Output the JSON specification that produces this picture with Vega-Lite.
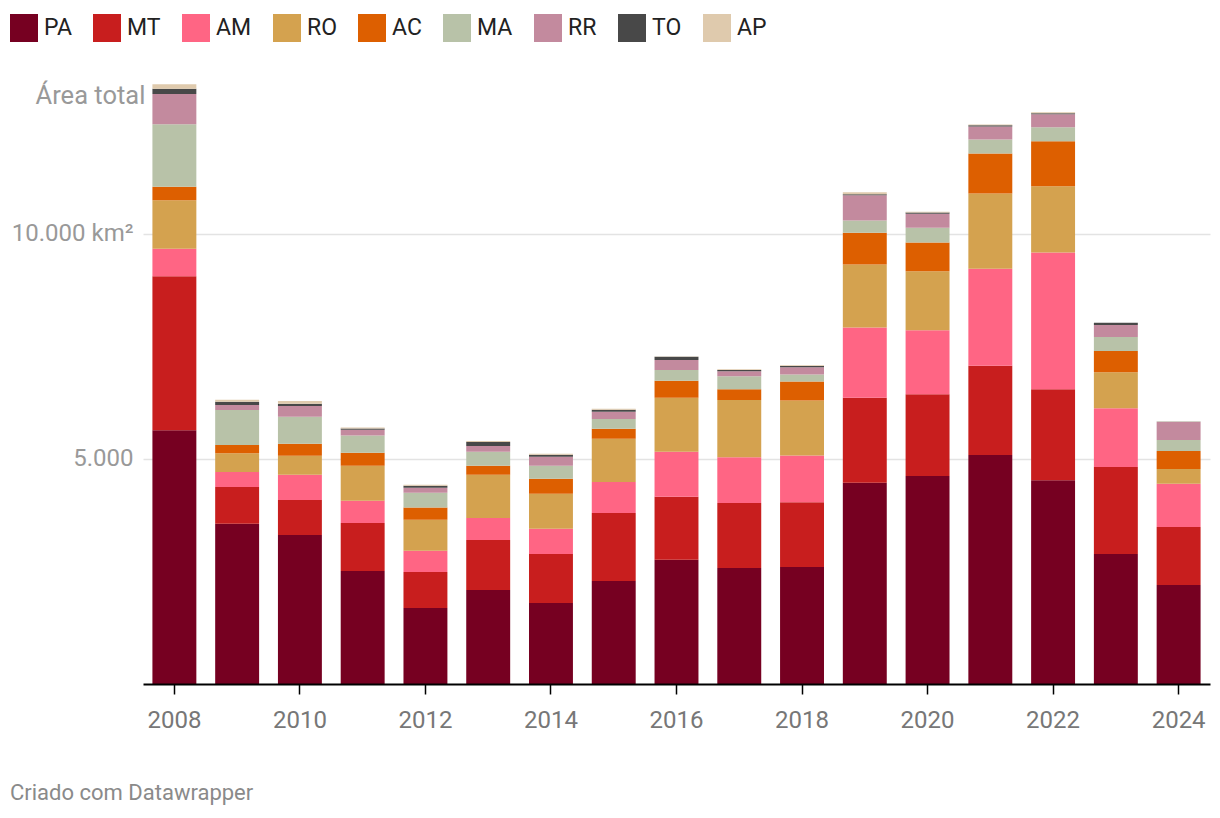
{
  "$schema": "https://vega.github.io/schema/vega-lite/v6.json",
  "width": 1067,
  "height": 600,
  "autosize": {"type": "none"},
  "padding": {"left": 143, "top": 84, "right": 10, "bottom": 134},
  "background": "white",
  "config": {
    "font": "Roboto",
    "view": {"stroke": null}
  },
  "title": {
    "text": "Criado com Datawrapper",
    "orient": "bottom",
    "anchor": "start",
    "frame": "bounds",
    "offset": 51,
    "fontSize": 22,
    "fontWeight": "normal",
    "color": "#8a8a8a",
    "font": "Roboto"
  },
  "datasets": {
    "main": [
      {"year": 2008, "state": "PA", "value": 5640}, {"year": 2008, "state": "MT", "value": 3420}, {"year": 2008, "state": "AM", "value": 610}, {"year": 2008, "state": "RO", "value": 1080}, {"year": 2008, "state": "AC", "value": 300}, {"year": 2008, "state": "MA", "value": 1390}, {"year": 2008, "state": "RR", "value": 670}, {"year": 2008, "state": "TO", "value": 120}, {"year": 2008, "state": "AP", "value": 100},
      {"year": 2009, "state": "PA", "value": 3560}, {"year": 2009, "state": "MT", "value": 820}, {"year": 2009, "state": "AM", "value": 330}, {"year": 2009, "state": "RO", "value": 420}, {"year": 2009, "state": "AC", "value": 180}, {"year": 2009, "state": "MA", "value": 780}, {"year": 2009, "state": "RR", "value": 110}, {"year": 2009, "state": "TO", "value": 70}, {"year": 2009, "state": "AP", "value": 45},
      {"year": 2010, "state": "PA", "value": 3310}, {"year": 2010, "state": "MT", "value": 780}, {"year": 2010, "state": "AM", "value": 560}, {"year": 2010, "state": "RO", "value": 420}, {"year": 2010, "state": "AC", "value": 270}, {"year": 2010, "state": "MA", "value": 600}, {"year": 2010, "state": "RR", "value": 240}, {"year": 2010, "state": "TO", "value": 45}, {"year": 2010, "state": "AP", "value": 65},
      {"year": 2011, "state": "PA", "value": 2510}, {"year": 2011, "state": "MT", "value": 1070}, {"year": 2011, "state": "AM", "value": 490}, {"year": 2011, "state": "RO", "value": 780}, {"year": 2011, "state": "AC", "value": 290}, {"year": 2011, "state": "MA", "value": 380}, {"year": 2011, "state": "RR", "value": 130}, {"year": 2011, "state": "TO", "value": 25}, {"year": 2011, "state": "AP", "value": 25},
      {"year": 2012, "state": "PA", "value": 1690}, {"year": 2012, "state": "MT", "value": 800}, {"year": 2012, "state": "AM", "value": 470}, {"year": 2012, "state": "RO", "value": 690}, {"year": 2012, "state": "AC", "value": 270}, {"year": 2012, "state": "MA", "value": 330}, {"year": 2012, "state": "RR", "value": 110}, {"year": 2012, "state": "TO", "value": 45}, {"year": 2012, "state": "AP", "value": 20},
      {"year": 2013, "state": "PA", "value": 2090}, {"year": 2013, "state": "MT", "value": 1110}, {"year": 2013, "state": "AM", "value": 490}, {"year": 2013, "state": "RO", "value": 960}, {"year": 2013, "state": "AC", "value": 200}, {"year": 2013, "state": "MA", "value": 310}, {"year": 2013, "state": "RR", "value": 130}, {"year": 2013, "state": "TO", "value": 90}, {"year": 2013, "state": "AP", "value": 20},
      {"year": 2014, "state": "PA", "value": 1800}, {"year": 2014, "state": "MT", "value": 1090}, {"year": 2014, "state": "AM", "value": 560}, {"year": 2014, "state": "RO", "value": 780}, {"year": 2014, "state": "AC", "value": 330}, {"year": 2014, "state": "MA", "value": 290}, {"year": 2014, "state": "RR", "value": 200}, {"year": 2014, "state": "TO", "value": 45}, {"year": 2014, "state": "AP", "value": 20},
      {"year": 2015, "state": "PA", "value": 2290}, {"year": 2015, "state": "MT", "value": 1510}, {"year": 2015, "state": "AM", "value": 690}, {"year": 2015, "state": "RO", "value": 960}, {"year": 2015, "state": "AC", "value": 220}, {"year": 2015, "state": "MA", "value": 220}, {"year": 2015, "state": "RR", "value": 160}, {"year": 2015, "state": "TO", "value": 45}, {"year": 2015, "state": "AP", "value": 20},
      {"year": 2016, "state": "PA", "value": 2760}, {"year": 2016, "state": "MT", "value": 1400}, {"year": 2016, "state": "AM", "value": 1000}, {"year": 2016, "state": "RO", "value": 1200}, {"year": 2016, "state": "AC", "value": 380}, {"year": 2016, "state": "MA", "value": 240}, {"year": 2016, "state": "RR", "value": 220}, {"year": 2016, "state": "TO", "value": 70}, {"year": 2016, "state": "AP", "value": 10},
      {"year": 2017, "state": "PA", "value": 2580}, {"year": 2017, "state": "MT", "value": 1440}, {"year": 2017, "state": "AM", "value": 1020}, {"year": 2017, "state": "RO", "value": 1270}, {"year": 2017, "state": "AC", "value": 240}, {"year": 2017, "state": "MA", "value": 290}, {"year": 2017, "state": "RR", "value": 110}, {"year": 2017, "state": "TO", "value": 25}, {"year": 2017, "state": "AP", "value": 20},
      {"year": 2018, "state": "PA", "value": 2600}, {"year": 2018, "state": "MT", "value": 1440}, {"year": 2018, "state": "AM", "value": 1040}, {"year": 2018, "state": "RO", "value": 1220}, {"year": 2018, "state": "AC", "value": 420}, {"year": 2018, "state": "MA", "value": 160}, {"year": 2018, "state": "RR", "value": 160}, {"year": 2018, "state": "TO", "value": 25}, {"year": 2018, "state": "AP", "value": 20},
      {"year": 2019, "state": "PA", "value": 4470}, {"year": 2019, "state": "MT", "value": 1890}, {"year": 2019, "state": "AM", "value": 1560}, {"year": 2019, "state": "RO", "value": 1400}, {"year": 2019, "state": "AC", "value": 710}, {"year": 2019, "state": "MA", "value": 270}, {"year": 2019, "state": "RR", "value": 560}, {"year": 2019, "state": "TO", "value": 25}, {"year": 2019, "state": "AP", "value": 45},
      {"year": 2020, "state": "PA", "value": 4620}, {"year": 2020, "state": "MT", "value": 1820}, {"year": 2020, "state": "AM", "value": 1420}, {"year": 2020, "state": "RO", "value": 1310}, {"year": 2020, "state": "AC", "value": 640}, {"year": 2020, "state": "MA", "value": 330}, {"year": 2020, "state": "RR", "value": 310}, {"year": 2020, "state": "TO", "value": 25}, {"year": 2020, "state": "AP", "value": 20},
      {"year": 2021, "state": "PA", "value": 5090}, {"year": 2021, "state": "MT", "value": 1980}, {"year": 2021, "state": "AM", "value": 2160}, {"year": 2021, "state": "RO", "value": 1670}, {"year": 2021, "state": "AC", "value": 890}, {"year": 2021, "state": "MA", "value": 310}, {"year": 2021, "state": "RR", "value": 290}, {"year": 2021, "state": "TO", "value": 25}, {"year": 2021, "state": "AP", "value": 20},
      {"year": 2022, "state": "PA", "value": 4530}, {"year": 2022, "state": "MT", "value": 2020}, {"year": 2022, "state": "AM", "value": 3040}, {"year": 2022, "state": "RO", "value": 1470}, {"year": 2022, "state": "AC", "value": 1000}, {"year": 2022, "state": "MA", "value": 310}, {"year": 2022, "state": "RR", "value": 290}, {"year": 2022, "state": "TO", "value": 25}, {"year": 2022, "state": "AP", "value": 20},
      {"year": 2023, "state": "PA", "value": 2890}, {"year": 2023, "state": "MT", "value": 1930}, {"year": 2023, "state": "AM", "value": 1310}, {"year": 2023, "state": "RO", "value": 800}, {"year": 2023, "state": "AC", "value": 470}, {"year": 2023, "state": "MA", "value": 310}, {"year": 2023, "state": "RR", "value": 270}, {"year": 2023, "state": "TO", "value": 45}, {"year": 2023, "state": "AP", "value": 5},
      {"year": 2024, "state": "PA", "value": 2200}, {"year": 2024, "state": "MT", "value": 1290}, {"year": 2024, "state": "AM", "value": 960}, {"year": 2024, "state": "RO", "value": 330}, {"year": 2024, "state": "AC", "value": 400}, {"year": 2024, "state": "MA", "value": 240}, {"year": 2024, "state": "RR", "value": 400}, {"year": 2024, "state": "TO", "value": 10}, {"year": 2024, "state": "AP", "value": 5}
    ],
    "note": [
      {"year": 2008, "value": 13067, "label": "Área total"}
    ]
  },
  "layer": [
    {
      "data": {"name": "main"},
      "transform": [
        {"calculate": "indexof(['PA','MT','AM','RO','AC','MA','RR','TO','AP'], datum.state)", "as": "ord"}
      ],
      "mark": {"type": "bar", "stroke": null},
      "encoding": {
        "x": {
          "field": "year",
          "type": "ordinal",
          "scale": {"paddingInner": 0.3, "paddingOuter": 0.15},
          "axis": {
            "title": null,
            "values": [2008, 2010, 2012, 2014, 2016, 2018, 2020, 2022, 2024],
            "labelAngle": 0,
            "labelFontSize": 24,
            "labelColor": "#777777",
            "labelPadding": 14,
            "domainColor": "#000000",
            "domainWidth": 2,
            "tickColor": "#000000",
            "tickWidth": 1.5,
            "tickSize": 10,
            "zindex": 1
          }
        },
        "y": {
          "field": "value",
          "type": "quantitative",
          "stack": "zero",
          "scale": {"domain": [0, 13333], "nice": false},
          "axis": {
            "title": null,
            "values": [5000, 10000],
            "labelExpr": "datum.value == 10000 ? '10.000 km²' : '5.000'",
            "labelFontSize": 24,
            "labelColor": "#999999",
            "labelPadding": 10,
            "domain": false,
            "ticks": false,
            "grid": true,
            "gridColor": "#e3e3e3",
            "gridWidth": 1.5,
            "zindex": 0
          }
        },
        "color": {
          "field": "state",
          "type": "nominal",
          "scale": {
            "domain": ["PA", "MT", "AM", "RO", "AC", "MA", "RR", "TO", "AP"],
            "range": ["#760021", "#c81e1e", "#ff6584", "#d4a24f", "#dd5f00", "#b8c2a8", "#c38a9e", "#484848", "#dfcaad"]
          },
          "legend": {
            "title": null,
            "orient": "none",
            "legendX": -133,
            "legendY": -70,
            "direction": "horizontal",
            "columns": 9,
            "symbolType": "square",
            "symbolSize": 784,
            "symbolStrokeWidth": 0,
            "labelFontSize": 23,
            "labelColor": "#222222",
            "labelOffset": 6,
            "columnPadding": 21,
            "labelLimit": 200
          }
        },
        "order": {"field": "ord", "type": "quantitative", "sort": "ascending"}
      }
    },
    {
      "data": {"name": "note"},
      "mark": {"type": "text", "align": "right", "baseline": "middle", "dx": -29, "fontSize": 25.5, "color": "#999999", "font": "Roboto"},
      "encoding": {
        "x": {"field": "year", "type": "ordinal"},
        "y": {"field": "value", "type": "quantitative"},
        "text": {"field": "label"}
      }
    }
  ]
}
